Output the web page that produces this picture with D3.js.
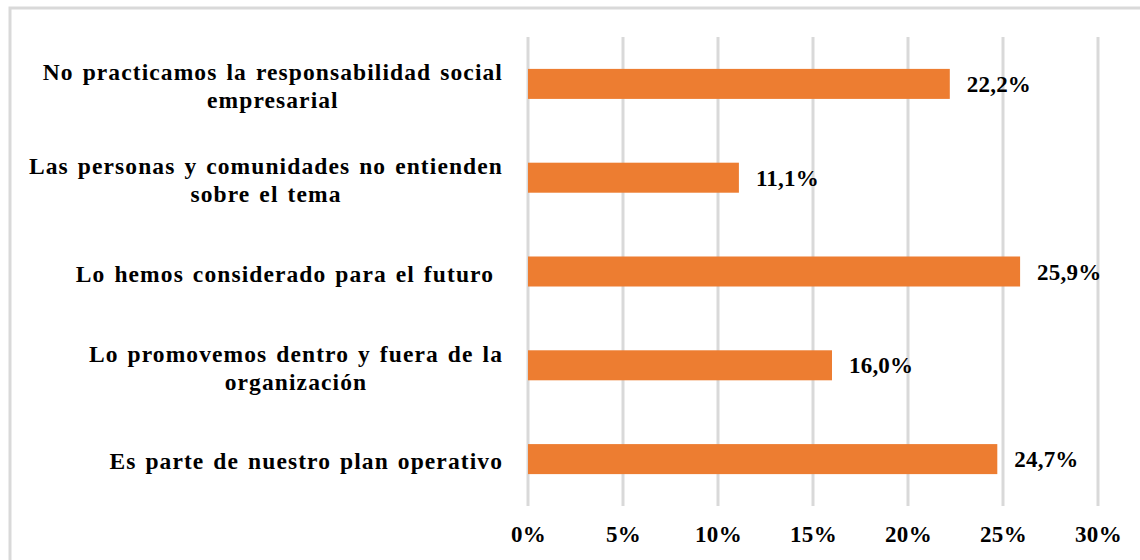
<!DOCTYPE html>
<html>
<head>
<meta charset="utf-8">
<script src="https://cdn.jsdelivr.net/npm/d3@7"></script>
<style>
    body { margin: 0; background: #fff; }
    text { font-family: "Liberation Serif", "Times New Roman", serif; font-weight: bold; fill: #000; }
</style>
</head>
<body>
<div id="chart"></div>
<script>
// categories, top to bottom (each entry is the lines of the label)
var categories = [
    ["No practicamos la responsabilidad social", "empresarial"],
    ["Las personas y comunidades no entienden", "sobre el tema"],
    ["Lo hemos considerado para el futuro "],
    ["Lo promovemos dentro y fuera de la", "organización"],
    ["Es parte de nuestro plan operativo"]
];
var values = [22.2, 11.1, 25.9, 16.0, 24.7];
var ticks = [0, 5, 10, 15, 20, 25, 30];

var width = 1140, height = 560;
var margin = {top: 37, right: 42, bottom: 54, left: 528};

var svg = d3.select('#chart')
    .append('svg')
    .attr('width', width)
    .attr('height', height);

// outer frame
svg.append('rect')
    .attr('x', 10).attr('y', 8)
    .attr('width', width).attr('height', height)
    .attr('fill', 'none')
    .attr('stroke', '#d9d9d9')
    .attr('stroke-width', 3);

var x = d3.scaleLinear()
    .domain([0, 30])
    .range([margin.left, width - margin.right]);

var y = d3.scaleBand()
    .domain(d3.range(categories.length))
    .range([margin.top, height - margin.bottom])
    .paddingInner(0.68)
    .paddingOuter(0.34);

// gridlines
svg.append('g')
    .selectAll('line')
    .data(ticks)
    .enter().append('line')
    .attr('x1', function (d) { return x(d); })
    .attr('x2', function (d) { return x(d); })
    .attr('y1', margin.top)
    .attr('y2', height - margin.bottom)
    .attr('stroke', '#d9d9d9')
    .attr('stroke-width', 3);

// x axis tick labels
var xAxis = d3.axisBottom(x)
    .tickValues(ticks)
    .tickSize(0)
    .tickPadding(0)
    .tickFormat(function (d) { return d + '%'; });
var gx = svg.append('g')
    .attr('transform', 'translate(0,' + (height - margin.bottom) + ')')
    .call(xAxis);
gx.select('.domain').remove();
gx.selectAll('text')
    .attr('dy', null)
    .attr('y', 36)
    .style('font-size', '23px')
    .style('letter-spacing', '0.3px')
    .style('font-family', '"Liberation Serif", "Times New Roman", serif')
    .attr('fill', '#000');

// bars
svg.append('g')
    .selectAll('rect')
    .data(values)
    .enter().append('rect')
    .attr('x', x(0))
    .attr('y', function (d, i) { return y(i); })
    .attr('width', function (d) { return x(d) - x(0); })
    .attr('height', y.bandwidth())
    .attr('fill', '#ed7d31');

// value labels
svg.append('g')
    .selectAll('text')
    .data(values)
    .enter().append('text')
    .attr('x', function (d) { return x(d) + 17; })
    .attr('y', function (d, i) { return y(i) + y.bandwidth() / 2; })
    .attr('dy', '0.35em')
    .style('font-size', '23px')
    .style('letter-spacing', '0.2px')
    .text(function (d) { return d.toFixed(1).replace('.', ',') + '%'; });

// category labels: lines centred within a block right-aligned at labelRight
var labelRight = 503, lineHeight = 28;
categories.forEach(function (lines, i) {
    var cy = y(i) + y.bandwidth() / 2 + 2;
    var g = svg.append('g');
    var texts = g.selectAll('text')
        .data(lines)
        .enter().append('text')
        .attr('y', function (d, j) { return cy + (j - (lines.length - 1) / 2) * lineHeight; })
        .attr('dy', '0.35em')
        .attr('text-anchor', 'middle')
        .style('white-space', 'pre')
        .style('font-size', '23.5px')
        .style('letter-spacing', '1.1px')
        .style('word-spacing', '2px')
        .text(function (d) { return d; });
    var w = 0;
    texts.each(function () { w = Math.max(w, this.getComputedTextLength()); });
    texts.attr('x', labelRight - w / 2);
});
</script>
</body>
</html>
